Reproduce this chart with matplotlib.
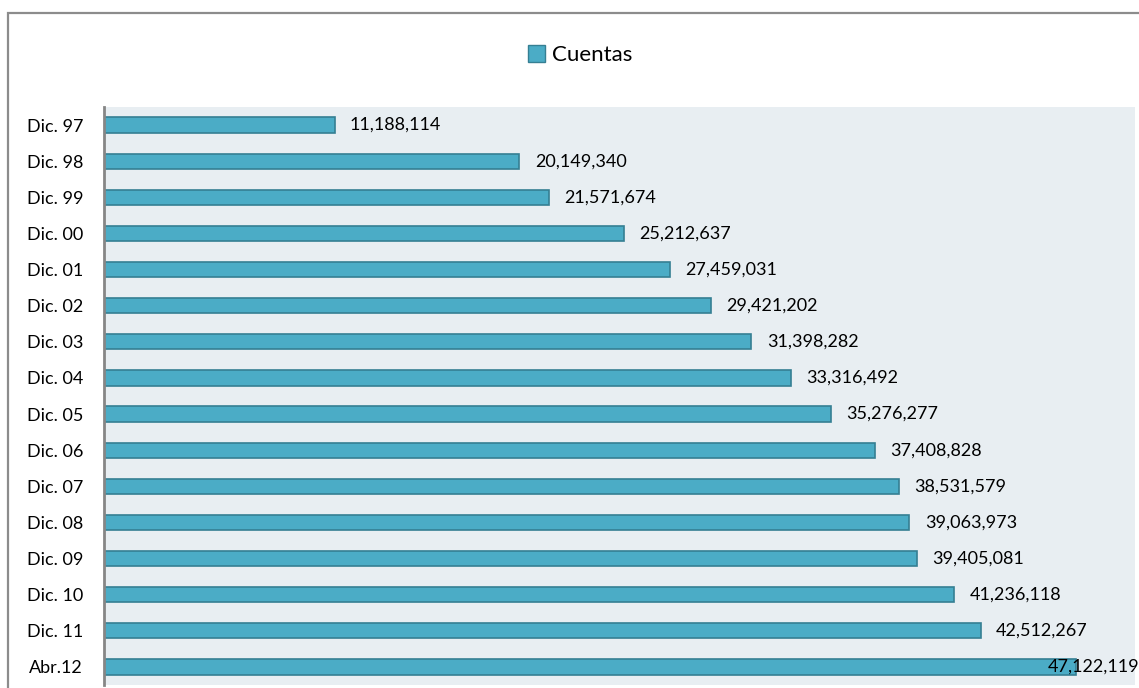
import matplotlib
matplotlib.use("Agg")
import matplotlib.pyplot as plt
from matplotlib.patches import Rectangle, Patch
import matplotlib.transforms as mtransforms

# Datos: cuentas por periodo
periodos = ["Dic. 97", "Dic. 98", "Dic. 99", "Dic. 00", "Dic. 01", "Dic. 02",
            "Dic. 03", "Dic. 04", "Dic. 05", "Dic. 06", "Dic. 07", "Dic. 08",
            "Dic. 09", "Dic. 10", "Dic. 11", "Abr.12"]
cuentas = [11188114, 20149340, 21571674, 25212637, 27459031, 29421202,
           31398282, 33316492, 35276277, 37408828, 38531579, 39063973,
           39405081, 41236118, 42512267, 47122119]

BAR_COLOR = "#4BACC6"
EDGE_COLOR = "#357F93"
BG_COLOR = "#E8EEF2"

plt.rcParams["font.family"] = ["Lato", "DejaVu Sans"]

W, H = 1139, 688
fig = plt.figure(figsize=(W / 100, H / 100), dpi=100)

# marco exterior del gráfico
fig.patches.append(Rectangle((8 / W, -0.1), 1.2, 1.1 - 13 / H,
                             transform=fig.transFigure, fill=False,
                             edgecolor="#8C8C8C", linewidth=1.6))

ax = fig.add_axes([104 / W, 3 / H, 1031 / W, 578 / H])
ax.set_facecolor(BG_COLOR)

y = list(range(len(periodos)))
ax.barh(y, cuentas, height=0.42, color=BAR_COLOR, edgecolor=EDGE_COLOR,
        linewidth=1.2)

ax.set_xlim(0, 50_000_000)
ax.set_ylim(len(periodos) - 0.5, -0.5)
ax.set_yticks(y)
ax.set_yticklabels(periodos, fontsize=13)
ax.tick_params(axis="y", length=0, pad=15)
ax.set_xticks([])

for s in ["top", "right", "bottom"]:
    ax.spines[s].set_visible(False)
ax.spines["left"].set_color("#868686")
ax.spines["left"].set_linewidth(2)

# etiquetas de valor
for i, v in enumerate(cuentas):
    txt = f"{v:,}"
    if i == len(cuentas) - 1:
        tr = mtransforms.blended_transform_factory(ax.transAxes, ax.transData)
        ax.text(1.004, i, txt, transform=tr, ha="right", va="center",
                fontsize=13, clip_on=False)
    else:
        ax.annotate(txt, (v, i), xytext=(11, 0), textcoords="offset points",
                    ha="left", va="center", fontsize=13)

leg = fig.legend(handles=[Patch(facecolor=BAR_COLOR, edgecolor=EDGE_COLOR,
                                label="Cuentas")],
                 loc="center", bbox_to_anchor=(580 / W, 1 - 55 / H),
                 frameon=False, fontsize=16, handlelength=0.8,
                 handleheight=0.8, handletextpad=0.3)

fig.savefig("out.png", dpi=100)
